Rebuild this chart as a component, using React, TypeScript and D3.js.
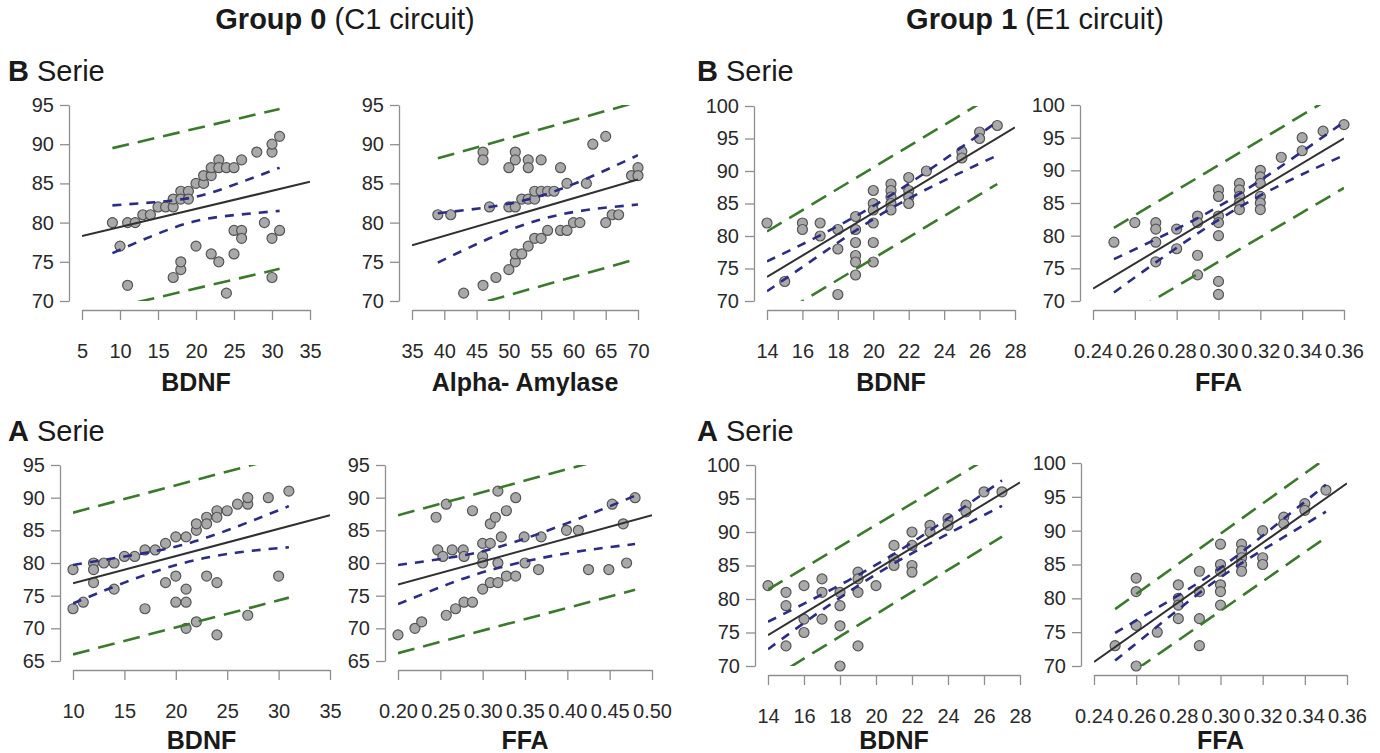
import React, { useEffect, useRef } from "react";
import * as d3 from "d3";

type Pt = [number, number];
// [x, lower, upper]
type Band = [number, number, number];

// ---- Group 0 (C1 circuit), B serie, BDNF
const g0bBdnfPoints: Pt[] = [
  [9, 80], [10, 77], [11, 80], [12, 80], [11, 72], [13, 81], [14, 81], [15, 82], [16, 82], [17, 82],
  [17, 83], [18, 84], [18, 83], [19, 84], [19, 83], [20, 85], [21, 85], [21, 86], [22, 86], [22, 87],
  [23, 88], [23, 87], [24, 87], [25, 87], [26, 88], [28, 89], [30, 89], [30, 90], [31, 91], [17, 73],
  [18, 74], [18, 75], [20, 77], [22, 76], [23, 75], [24, 71], [25, 76], [25, 79], [26, 79], [26, 78],
  [29, 80], [30, 78], [31, 79], [30, 73],
];
const g0bBdnfFit: Pt[] = [[5, 78.3], [35, 85.2]];
const g0bBdnfConf: Band[] = [[9, 76.1, 82.2], [14.5, 78.4, 82.6], [20, 80.2, 83.3], [25.5, 81.0, 85.0], [31, 81.5, 87.0]];
const g0bBdnfPred: Band[] = [[9, 69.1, 89.5], [31, 74.1, 94.5]];

// ---- Group 0, B serie, Alpha-Amylase
const g0bAmyPoints: Pt[] = [
  [39, 81], [41, 81], [43, 71], [46, 89], [46, 88], [46, 72], [47, 82], [48, 73], [50, 74], [50, 87],
  [50, 82], [51, 82], [51, 89], [51, 88], [51, 75], [51, 76], [52, 76], [53, 77], [54, 78], [55, 78],
  [56, 79], [58, 79], [59, 79], [60, 80], [61, 80], [65, 80], [66, 81], [67, 81], [52, 83], [53, 83],
  [54, 83], [54, 84], [55, 84], [56, 84], [57, 84], [53, 88], [53, 87], [55, 88], [58, 87], [59, 85],
  [62, 85], [63, 90], [65, 91], [69, 86], [70, 87], [70, 86],
];
const g0bAmyFit: Pt[] = [[35, 77.1], [70, 85.5]];
const g0bAmyConf: Band[] = [[39, 74.9, 81.2], [47, 78.0, 82.0], [54.5, 80.3, 83.3], [62, 81.6, 85.6], [70, 82.3, 88.6]];
const g0bAmyPred: Band[] = [[39, 68.2, 88.2], [70, 75.4, 95.4]];

// ---- Group 1 (E1 circuit), B serie, BDNF
const g1bBdnfPoints: Pt[] = [
  [14, 82], [15, 73], [16, 82], [16, 81], [17, 82], [17, 80], [18, 81], [18, 78], [18, 71], [19, 83],
  [19, 81], [19, 79], [19, 77], [19, 76], [19, 74], [20, 87], [20, 85], [20, 84], [20, 82], [20, 79],
  [20, 76], [21, 88], [21, 87], [21, 86], [21, 85], [21, 84], [22, 89], [22, 87], [22, 86], [22, 85],
  [23, 90], [25, 93], [25, 92], [26, 96], [26, 95], [27, 97],
];
const g1bBdnfFit: Pt[] = [[14, 73.7], [28, 96.7]];
const g1bBdnfConf: Band[] = [[14, 71.5, 76.1], [17, 77.1, 80.1], [20.3, 83.1, 85.1], [23.6, 88.0, 91.0], [27, 92.4, 97.6]];
const g1bBdnfPred: Band[] = [[14, 66.7, 80.7], [27, 88.0, 102.0]];

// ---- Group 1, B serie, FFA
const g1bFfaPoints: Pt[] = [
  [0.25, 79], [0.26, 82], [0.27, 82], [0.27, 81], [0.27, 79], [0.27, 76], [0.28, 81], [0.28, 78], [0.29, 83],
  [0.29, 82], [0.29, 77], [0.29, 74], [0.3, 87], [0.3, 86], [0.3, 83], [0.3, 82], [0.3, 80], [0.3, 73],
  [0.3, 71], [0.31, 88], [0.31, 87], [0.31, 86], [0.31, 85], [0.31, 84], [0.32, 90], [0.32, 89], [0.32, 88],
  [0.32, 86], [0.32, 85], [0.32, 84], [0.33, 92], [0.34, 95], [0.34, 93], [0.35, 96], [0.36, 97],
];
const g1bFfaFit: Pt[] = [[0.24, 71.9], [0.36, 94.9]];
const g1bFfaConf: Band[] = [[0.25, 71.3, 76.4], [0.278, 77.7, 80.7], [0.305, 83.4, 85.4], [0.333, 88.3, 91.3], [0.36, 92.3, 97.4]];
const g1bFfaPred: Band[] = [[0.25, 66.6, 81.2], [0.36, 87.3, 102.3]];

// ---- Group 0, A serie, BDNF
const g0aBdnfPoints: Pt[] = [
  [10, 79], [10, 73], [11, 74], [12, 80], [12, 79], [12, 77], [13, 80], [14, 80], [14, 76], [15, 81],
  [16, 81], [17, 82], [17, 73], [18, 82], [19, 83], [19, 77], [20, 84], [20, 78], [20, 74], [21, 84],
  [21, 76], [21, 74], [21, 70], [22, 85], [22, 86], [22, 71], [23, 87], [23, 86], [23, 78], [24, 88],
  [24, 87], [24, 77], [24, 69], [25, 88], [26, 89], [27, 89], [27, 90], [27, 72], [29, 90], [30, 78],
  [31, 91],
];
const g0aBdnfFit: Pt[] = [[10, 76.9], [35, 87.3]];
const g0aBdnfConf: Band[] = [[10, 73.8, 79.7], [15, 77.0, 81.0], [20.5, 79.9, 82.7], [26, 81.6, 85.6], [31, 82.4, 88.7]];
const g0aBdnfPred: Band[] = [[10, 66.0, 87.7], [31, 74.7, 96.5]];

// ---- Group 0, A serie, FFA
const g0aFfaPoints: Pt[] = [
  [0.2, 69], [0.22, 70], [0.228, 71], [0.245, 87], [0.247, 82], [0.253, 81], [0.257, 89], [0.257, 72],
  [0.264, 82], [0.268, 73], [0.277, 82], [0.278, 81], [0.278, 74], [0.288, 88], [0.288, 74], [0.3, 83],
  [0.3, 81], [0.3, 80], [0.3, 76], [0.309, 86], [0.309, 83], [0.309, 77], [0.315, 87], [0.318, 91],
  [0.318, 80], [0.318, 77], [0.322, 84], [0.328, 88], [0.328, 78], [0.339, 90], [0.339, 78], [0.349, 84],
  [0.35, 80], [0.366, 79], [0.369, 84], [0.399, 85], [0.413, 85], [0.425, 79], [0.449, 79], [0.453, 89],
  [0.466, 86], [0.47, 80], [0.48, 90],
];
const g0aFfaFit: Pt[] = [[0.2, 76.7], [0.5, 87.3]];
const g0aFfaConf: Band[] = [[0.2, 73.7, 79.7], [0.26, 76.8, 80.8], [0.32, 79.3, 82.5], [0.4, 81.5, 86.1], [0.48, 82.9, 90.3]];
const g0aFfaPred: Band[] = [[0.2, 66.2, 87.3], [0.48, 75.9, 97.2]];

// ---- Group 1, A serie, BDNF
const g1aBdnfPoints: Pt[] = [
  [14, 82], [15, 81], [15, 79], [15, 73], [16, 82], [16, 77], [16, 75], [17, 83], [17, 81], [17, 77],
  [18, 81], [18, 79], [18, 76], [18, 70], [19, 84], [19, 83], [19, 81], [19, 73], [20, 82], [21, 88],
  [21, 86], [21, 85], [22, 90], [22, 88], [22, 85], [22, 84], [23, 91], [23, 90], [24, 92], [24, 91],
  [25, 94], [25, 93], [26, 96], [27, 96],
];
const g1aBdnfFit: Pt[] = [[14, 74.6], [28, 97.4]];
const g1aBdnfConf: Band[] = [[14, 72.5, 76.6], [17.3, 78.9, 81.1], [20.5, 84.5, 85.9], [23.7, 89.3, 91.5], [27, 93.9, 97.7]];
const g1aBdnfPred: Band[] = [[14, 67.8, 81.4], [27, 89.3, 102.3]];

// ---- Group 1, A serie, FFA
const g1aFfaPoints: Pt[] = [
  [0.25, 73], [0.26, 83], [0.26, 81], [0.26, 76], [0.26, 70], [0.27, 75], [0.28, 82], [0.28, 80], [0.28, 79],
  [0.28, 77], [0.29, 84], [0.29, 81], [0.29, 77], [0.29, 73], [0.3, 88], [0.3, 85], [0.3, 84], [0.3, 82],
  [0.3, 81], [0.3, 79], [0.31, 88], [0.31, 87], [0.31, 86], [0.31, 85], [0.31, 84], [0.32, 90], [0.32, 86],
  [0.32, 85], [0.33, 92], [0.33, 91], [0.34, 94], [0.34, 93], [0.35, 96],
];
const g1aFfaFit: Pt[] = [[0.24, 70.6], [0.36, 97.0]];
const g1aFfaConf: Band[] = [[0.25, 70.8, 74.9], [0.275, 77.1, 79.5], [0.3, 83.1, 84.5], [0.325, 88.1, 90.5], [0.35, 92.8, 96.8]];
const g1aFfaPred: Band[] = [[0.25, 67.3, 78.4], [0.35, 89.0, 100.7]];

// tick values
const bdnfTicksB0 = [5, 10, 15, 20, 25, 30, 35];
const amylaseTicks = [35, 40, 45, 50, 55, 60, 65, 70];
const bdnfTicksA0 = [10, 15, 20, 25, 30, 35];
const ffaTicks0 = [0.2, 0.25, 0.3, 0.35, 0.4, 0.45, 0.5];
const bdnfTicks1 = [14, 16, 18, 20, 22, 24, 26, 28];
const ffaTicks1 = [0.24, 0.26, 0.28, 0.3, 0.32, 0.34, 0.36];
const yTicks70to95 = [70, 75, 80, 85, 90, 95];
const yTicks65to95 = [65, 70, 75, 80, 85, 90, 95];
const yTicks70to100 = [70, 75, 80, 85, 90, 95, 100];

const FONT = "'Liberation Sans', Arial, Helvetica, sans-serif";
const AXIS_GREY = "#8f8f8f";
const GREEN = "#3b7a2c";
const BLUE = "#2c2c86";

// plot boxes: [left, right, top, bottom]
const panels = [
  { box: [82, 310, 105, 301], xTicks: bdnfTicksB0, yTicks: yTicks70to95, fmt: "d", label: "BDNF", pts: g0bBdnfPoints, fit: g0bBdnfFit, conf: g0bBdnfConf, pred: g0bBdnfPred },
  { box: [412, 638, 105, 301], xTicks: amylaseTicks, yTicks: yTicks70to95, fmt: "d", label: "Alpha- Amylase", pts: g0bAmyPoints, fit: g0bAmyFit, conf: g0bAmyConf, pred: g0bAmyPred },
  { box: [767, 1015, 106, 301], xTicks: bdnfTicks1, yTicks: yTicks70to100, fmt: "d", label: "BDNF", pts: g1bBdnfPoints, fit: g1bBdnfFit, conf: g1bBdnfConf, pred: g1bBdnfPred },
  { box: [1093, 1344, 105, 301], xTicks: ffaTicks1, yTicks: yTicks70to100, fmt: ".2f", label: "FFA", pts: g1bFfaPoints, fit: g1bFfaFit, conf: g1bFfaConf, pred: g1bFfaPred },
  { box: [73, 330, 465, 661], xTicks: bdnfTicksA0, yTicks: yTicks65to95, fmt: "d", label: "BDNF", pts: g0aBdnfPoints, fit: g0aBdnfFit, conf: g0aBdnfConf, pred: g0aBdnfPred },
  { box: [398, 652, 465, 661], xTicks: ffaTicks0, yTicks: yTicks65to95, fmt: ".2f", label: "FFA", pts: g0aFfaPoints, fit: g0aFfaFit, conf: g0aFfaConf, pred: g0aFfaPred },
  { box: [768, 1020, 465, 666], xTicks: bdnfTicks1, yTicks: yTicks70to100, fmt: "d", label: "BDNF", pts: g1aBdnfPoints, fit: g1aBdnfFit, conf: g1aBdnfConf, pred: g1aBdnfPred },
  { box: [1094, 1347, 463, 666], xTicks: ffaTicks1, yTicks: yTicks70to100, fmt: ".2f", label: "FFA", pts: g1aFfaPoints, fit: g1aFfaFit, conf: g1aFfaConf, pred: g1aFfaPred },
];

const App = () => {
  const svgRef = useRef<SVGSVGElement>(null);

  useEffect(() => {
    const svg = d3.select(svgRef.current);
    svg.selectAll("*").remove();
    const defs = svg.append("defs");

    const heading = (x: number, y: number, bold: string, rest: string, size: number, anchor: string) => {
      const t = svg
        .append("text")
        .attr("x", x)
        .attr("y", y)
        .attr("text-anchor", anchor)
        .attr("font-family", FONT)
        .attr("font-size", size)
        .attr("fill", "#1a1a1a");
      t.append("tspan").attr("font-weight", "bold").text(bold);
      t.append("tspan").text(rest);
    };

    heading(345, 29, "Group 0", " (C1 circuit)", 29, "middle");
    heading(1035, 29, "Group 1", " (E1 circuit)", 29, "middle");
    heading(8, 81, "B", " Serie", 29, "start");
    heading(697, 81, "B", " Serie", 29, "start");
    heading(8, 441, "A", " Serie", 29, "start");
    heading(697, 441, "A", " Serie", 29, "start");

    panels.forEach((p, i) => {
      const [l, r, t, b] = p.box;
      const x = d3.scaleLinear().domain([p.xTicks[0], p.xTicks[p.xTicks.length - 1]]).range([l, r]);
      const y = d3.scaleLinear().domain([p.yTicks[0], p.yTicks[p.yTicks.length - 1]]).range([b, t]);
      const g = svg.append("g");

      defs
        .append("clipPath")
        .attr("id", `clip-${i}`)
        .append("rect")
        .attr("x", l)
        .attr("y", t)
        .attr("width", r - l)
        .attr("height", b - t);

      const styleAxis = (a: d3.Selection<SVGGElement, unknown, null, undefined>) => {
        a.attr("font-family", FONT).attr("font-size", 20);
        a.select(".domain").attr("stroke", AXIS_GREY).attr("stroke-width", 1.3);
        a.selectAll(".tick line").attr("stroke", AXIS_GREY).attr("stroke-width", 1.3);
        a.selectAll(".tick text").attr("fill", "#2a2a2a");
      };

      // y axis, offset to the left of the plot region
      g.append("g")
        .attr("transform", `translate(${l - 13},0)`)
        .call(d3.axisLeft(y).tickValues(p.yTicks).tickSize(9).tickPadding(6).tickSizeOuter(0).tickFormat(d3.format("d")))
        .call(styleAxis);

      // x axis, offset below the plot region
      g.append("g")
        .attr("transform", `translate(0,${b + 9})`)
        .call(
          d3
            .axisBottom(x)
            .tickValues(p.xTicks)
            .tickSize(10)
            .tickPadding(24)
            .tickSizeOuter(0)
            .tickFormat(d3.format(p.fmt)),
        )
        .call(styleAxis);

      g.append("text")
        .attr("x", (l + r) / 2)
        .attr("y", i < 4 ? 391 : 749)
        .attr("text-anchor", "middle")
        .attr("font-family", FONT)
        .attr("font-weight", "bold")
        .attr("font-size", 25)
        .attr("fill", "#1a1a1a")
        .text(p.label);

      // points
      g.append("g")
        .selectAll("circle")
        .data(p.pts)
        .join("circle")
        .attr("cx", d => x(d[0]))
        .attr("cy", d => y(d[1]))
        .attr("r", 5)
        .attr("fill", "#a9a9a9")
        .attr("stroke", "#555")
        .attr("stroke-width", 1.2);

      const lines = g.append("g").attr("clip-path", `url(#clip-${i})`).attr("fill", "none");
      const curve = d3
        .line<Pt>()
        .curve(d3.curveNatural)
        .x(d => x(d[0]))
        .y(d => y(d[1]));

      const bandLine = (band: Band[], k: 1 | 2, color: string, dash: string, w: number) =>
        lines
          .append("path")
          .attr("d", curve(band.map(d => [d[0], d[k]] as Pt)))
          .attr("stroke", color)
          .attr("stroke-width", w)
          .attr("stroke-dasharray", dash);

      bandLine(p.pred, 1, GREEN, "17,9", 2.6);
      bandLine(p.pred, 2, GREEN, "17,9", 2.6);
      bandLine(p.conf, 1, BLUE, "9,8", 2.6);
      bandLine(p.conf, 2, BLUE, "9,8", 2.6);

      lines.append("path").attr("d", curve(p.fit)).attr("stroke", "#303030").attr("stroke-width", 2);
    });
  }, []);

  return (
    <div style={{ position: "absolute", left: 0, top: 0, background: "#fff" }}>
      <svg ref={svgRef} width={1380} height={753} style={{ display: "block" }} />
    </div>
  );
};

export default App;
